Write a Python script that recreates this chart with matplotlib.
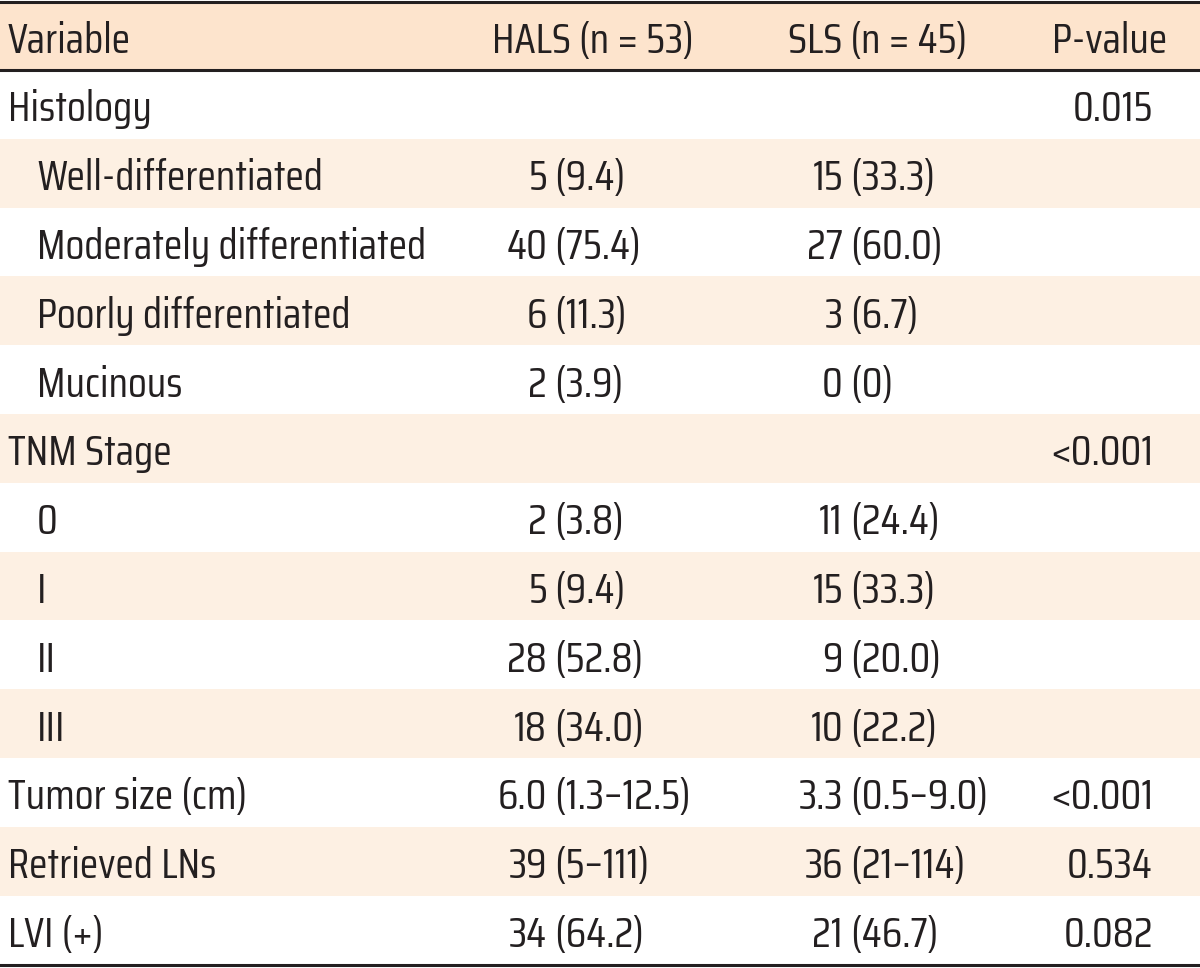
import matplotlib
matplotlib.use("Agg")
import matplotlib.pyplot as plt
from matplotlib import font_manager
from matplotlib.ft2font import FT2Font

# ---- data ----
headers = ["Variable", "HALS (n = 53)", "SLS (n = 45)", "P-value"]
variables = ["Histology", "Well-differentiated", "Moderately differentiated",
             "Poorly differentiated", "Mucinous", "TNM Stage", "0", "I", "II", "III",
             "Tumor size (cm)", "Retrieved LNs", "LVI (+)"]
indented = [False, True, True, True, True, False, True, True, True, True,
            False, False, False]
hals = ["", "5 (9.4)", "40 (75.4)", "6 (11.3)", "2 (3.9)", "", "2 (3.8)", "5 (9.4)",
        "28 (52.8)", "18 (34.0)", "6.0 (1.3\u201312.5)", "39 (5\u2013111)", "34 (64.2)"]
sls = ["", "15 (33.3)", "27 (60.0)", "3 (6.7)", "0 (0)", "", "11 (24.4)", "15 (33.3)",
       "9 (20.0)", "10 (22.2)", "3.3 (0.5\u20139.0)", "36 (21\u2013114)", "21 (46.7)"]
pvals = ["0.015", "", "", "", "", "<0.001", "", "", "", "", "<0.001", "0.534", "0.082"]

# ---- style ----
W, H = 1200, 968
HEADER_BG = "#FDE4CD"
STRIPE_BG = "#FDF0E3"
TEXT = "#231F20"

CAP_PX = 30.0      # cap height in the reference
WIDTH_PX = 122.0   # width of "Variable" in the reference
XRATIO = 0.73      # x-height / cap-height (Helvetica-like)


def measure(path):
    ft = FT2Font(path)
    ft.set_size(100, 72)  # 100 px em
    if ft.get_char_index(0x2013) == 0:
        return None
    cap = ft.load_char(ord("H")).height / 64.0
    xh = ft.load_char(ord("x")).height / 64.0
    ft.set_text("Variable")
    w = ft.get_width_height()[0] / 64.0
    return cap, xh, w


def pick_font():
    best, best_err = None, None
    for f in font_manager.fontManager.ttflist:
        nm = f.name.lower()
        is_cond = ("narrow" in nm or "condensed" in nm or
                   str(f.stretch) in ("condensed", "semi-condensed", "extra-condensed"))
        if not is_cond or f.style != "normal":
            continue
        if f.weight not in (400, "normal", "regular", "book"):
            continue
        if "mono" in nm or ("serif" in nm and "sans" not in nm):
            continue
        try:
            m = measure(f.fname)
        except Exception:
            continue
        if m is None:
            continue
        cap, xh, w = m
        if cap <= 0:
            continue
        scale = CAP_PX / cap
        width = w * scale
        err = abs(width - WIDTH_PX) / WIDTH_PX + 1.5 * abs(xh / cap - XRATIO)
        if best is None or err < best_err:
            best, best_err = (f, scale), err
    return best


choice = pick_font()
if choice is not None:
    f, scale = choice
    fs_px = 100.0 * scale
    FONT = font_manager.FontProperties(fname=f.fname, size=fs_px * 72 / 100.0)
else:
    FONT = font_manager.FontProperties(family="DejaVu Sans", stretch="condensed", size=28)

fig = plt.figure(figsize=(W / 100, H / 100), dpi=100)
ax = fig.add_axes([0, 0, 1, 1])
ax.set_xlim(0, W)
ax.set_ylim(H, 0)
ax.axis("off")

top = 2.0
head_bot = 70.0
body_bot = 964.5
row_h = (body_bot - head_bot) / len(variables)


def txt(x, y, s, ha):
    ax.text(x, y, s, ha=ha, va="center_baseline", color=TEXT, fontproperties=FONT)


# header
ax.axhspan(top, head_bot, color=HEADER_BG, lw=0)
hy = (top + head_bot) / 2 + 1
txt(8, hy, headers[0], "left")
txt(593, hy, headers[1], "center")
txt(878, hy, headers[2], "center")
txt(1110, hy, headers[3], "center")

col_hals = 547
col_sls = 843
col_p = 1153


def split_cell(x, y, s):
    if not s:
        return
    num, rest = s.split(" ", 1)
    txt(x, y, num, "right")
    txt(x, y, " " + rest, "left")


for i, var in enumerate(variables):
    y0 = head_bot + i * row_h
    y1 = y0 + row_h
    if i % 2 == 1:
        ax.axhspan(y0, y1, color=STRIPE_BG, lw=0)
    yc = (y0 + y1) / 2 + 1
    txt(37 if indented[i] else 8, yc, var, "left")
    split_cell(col_hals, yc, hals[i])
    split_cell(col_sls, yc, sls[i])
    if pvals[i]:
        txt(col_p, yc, pvals[i], "right")

# rules
ax.axhline(top, color="#231F20", lw=2.2)
ax.axhline(head_bot, color="#231F20", lw=2.2)
ax.axhline(body_bot, color="#231F20", lw=2.2)

fig.savefig("out.png", dpi=100, facecolor="white")
